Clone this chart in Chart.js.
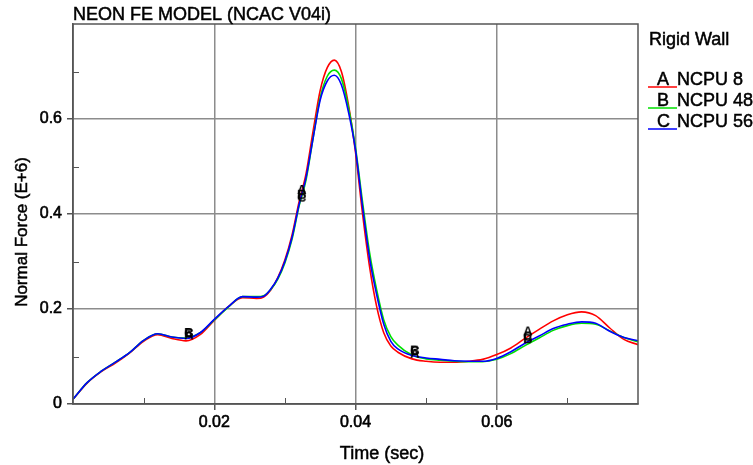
<!DOCTYPE html>
<html>
<head>
<meta charset="utf-8">
<script src="https://cdn.jsdelivr.net/npm/chart.js@4.4.1/dist/chart.umd.min.js"></script>
<style>
  body { margin: 0; background: #fff; }
  #wrap { position: relative; width: 753px; height: 465px; }
</style>
</head>
<body>
<div id="wrap"><canvas id="force-chart"></canvas></div>
<script>
// time (sec)
const times = [0, 0.002, 0.004, 0.006, 0.008, 0.010, 0.012, 0.014, 0.016, 0.018, 0.020, 0.022, 0.024, 0.026,
  0.027, 0.028, 0.029, 0.030, 0.031, 0.032, 0.033, 0.034, 0.035, 0.036, 0.037, 0.038, 0.039, 0.040,
  0.041, 0.042, 0.043, 0.044, 0.045, 0.046,
  0.048, 0.050, 0.052, 0.054, 0.056, 0.058, 0.060, 0.062, 0.064, 0.066, 0.068, 0.070, 0.072, 0.074,
  0.076, 0.078, 0.080];

// normal force (E+6)
const ncpu8 = [0.010, 0.044, 0.068, 0.086, 0.107, 0.132, 0.146, 0.138, 0.133, 0.146, 0.176, 0.205, 0.224, 0.222,
  0.225, 0.240, 0.266, 0.303, 0.355, 0.425, 0.485, 0.575, 0.660, 0.708, 0.724, 0.700, 0.630, 0.530,
  0.400, 0.288, 0.205, 0.150, 0.122, 0.109,
  0.095, 0.090, 0.088, 0.088, 0.090, 0.094, 0.104, 0.118, 0.138, 0.157, 0.175, 0.188, 0.194, 0.186,
  0.160, 0.136, 0.125];

const ncpu48 = [0.010, 0.045, 0.069, 0.088, 0.108, 0.134, 0.148, 0.141, 0.139, 0.150, 0.177, 0.204, 0.226, 0.226,
  0.228, 0.241, 0.263, 0.297, 0.346, 0.416, 0.472, 0.560, 0.645, 0.690, 0.703, 0.685, 0.625, 0.540,
  0.425, 0.318, 0.240, 0.177, 0.142, 0.124,
  0.103, 0.095, 0.092, 0.090, 0.089, 0.089, 0.094, 0.106, 0.123, 0.139, 0.155, 0.165, 0.170, 0.168,
  0.154, 0.140, 0.131];

const ncpu56 = [0.010, 0.045, 0.069, 0.088, 0.108, 0.134, 0.148, 0.141, 0.138, 0.150, 0.178, 0.205, 0.226, 0.225,
  0.227, 0.242, 0.265, 0.300, 0.350, 0.419, 0.477, 0.560, 0.640, 0.680, 0.692, 0.672, 0.615, 0.535,
  0.415, 0.306, 0.230, 0.168, 0.132, 0.116,
  0.102, 0.097, 0.094, 0.091, 0.090, 0.090, 0.096, 0.110, 0.128, 0.143, 0.159, 0.168, 0.173, 0.170,
  0.153, 0.140, 0.133];

// letter symbols on the curves
const markTimes = [0.0164, 0.0324, 0.0484, 0.0644];
const markA = [0.134, 0.440, 0.095, 0.142];
const markB = [0.139, 0.430, 0.102, 0.126];
const markC = [0.138, 0.424, 0.101, 0.131];

const xLabelled = [0.02, 0.04, 0.06];
const yLabelled = [0, 0.2, 0.4, 0.6];

const FONT = "'Liberation Sans', Arial, Helvetica, sans-serif";

function pts(xs, ys) {
  return xs.map((t, i) => ({ x: t, y: ys[i] }));
}

function letterImage(ch) {
  const c = document.createElement('canvas');
  c.width = 14; c.height = 26;
  const g = c.getContext('2d');
  g.fillStyle = '#000';
  g.font = 'bold 13px ' + FONT;
  g.textAlign = 'center';
  g.textBaseline = 'alphabetic';
  g.fillText(ch, 7, 12);
  return c;
}

function isLabelled(v, list, step) {
  return list.some(l => Math.abs(l - v) < step / 10);
}

function markSet(label, ys) {
  return {
    label: label,
    data: pts(markTimes, ys),
    showLine: false,
    pointStyle: letterImage(label),
    pointRadius: 7,
    order: 0,
    isMark: true
  };
}

const series = [
  { label: 'NCPU 8', letter: 'A', data: pts(times, ncpu8), borderColor: '#ff0000', order: 3 },
  { label: 'NCPU 48', letter: 'B', data: pts(times, ncpu48), borderColor: '#00e000', order: 2 },
  { label: 'NCPU 56', letter: 'C', data: pts(times, ncpu56), borderColor: '#0000ff', order: 1 }
].map(s => Object.assign(s, {
  borderWidth: 1.6,
  pointRadius: 0,
  fill: false,
  cubicInterpolationMode: 'monotone'
}));

// fill + thin stroke, the reference type is a little heavier than plain Arial
function heavyText(ctx, str, x, y) {
  ctx.strokeText(str, x, y);
  ctx.fillText(str, x, y);
}

const decor = {
  id: 'decor',
  afterDraw(chart) {
    const { ctx, chartArea: a, scales: { x, y } } = chart;
    ctx.save();

    // frame
    ctx.strokeStyle = '#555';
    ctx.lineWidth = 1.5;
    ctx.strokeRect(a.left, a.top, a.right - a.left, a.bottom - a.top);

    // minor ticks point inward
    ctx.lineWidth = 1;
    ctx.beginPath();
    x.ticks.forEach(t => {
      const n = Math.round(t.value * 100);
      if (n % 2 === 1) {
        const px = Math.round(x.getPixelForValue(t.value)) + 0.5;
        ctx.moveTo(px, a.bottom);
        ctx.lineTo(px, a.bottom - 6);
      }
    });
    y.ticks.forEach(t => {
      const n = Math.round(t.value * 10);
      if (n % 2 === 1) {
        const py = Math.round(y.getPixelForValue(t.value)) + 0.5;
        ctx.moveTo(a.left, py);
        ctx.lineTo(a.left + 6, py);
      }
    });
    ctx.stroke();

    // titles
    ctx.fillStyle = '#000';
    ctx.strokeStyle = '#000';
    ctx.lineWidth = 0.5;
    ctx.textBaseline = 'alphabetic';
    ctx.textAlign = 'left';
    ctx.font = '18px ' + FONT;
    heavyText(ctx, 'NEON FE MODEL (NCAC V04i)', 73, 20);

    ctx.textAlign = 'center';
    heavyText(ctx, 'Time (sec)', 382, 459);

    ctx.save();
    ctx.translate(27, 232);
    ctx.rotate(-Math.PI / 2);
    ctx.font = '17px ' + FONT;
    heavyText(ctx, 'Normal Force (E+6)', 0, 0);
    ctx.restore();

    // legend
    ctx.textAlign = 'left';
    ctx.font = '18px ' + FONT;
    heavyText(ctx, 'Rigid Wall', 649, 45);
    chart.data.datasets.filter(d => !d.isMark).forEach((d, i) => {
      const base = 85 + i * 21;
      ctx.fillStyle = '#000';
      ctx.strokeStyle = '#000';
      ctx.lineWidth = 0.5;
      heavyText(ctx, d.letter, 657, base);
      heavyText(ctx, d.label, 677, base);
      ctx.strokeStyle = d.borderColor;
      ctx.lineWidth = 1.5;
      ctx.beginPath();
      ctx.moveTo(648, base + 2);
      ctx.lineTo(677, base + 2);
      ctx.stroke();
    });

    ctx.restore();
  }
};

const tickFont = { family: FONT, size: 16 };

new Chart(document.getElementById('force-chart'), {
  type: 'line',
  data: {
    datasets: [
      markSet('A', markA),
      markSet('B', markB),
      markSet('C', markC),
      ...series
    ]
  },
  options: {
    responsive: true,
    maintainAspectRatio: false,
    animation: false,
    layout: { padding: { top: 24, right: 115, left: 0, bottom: 0 } },
    plugins: {
      legend: { display: false },
      tooltip: { enabled: false },
      title: { display: false }
    },
    scales: {
      x: {
        type: 'linear',
        min: 0,
        max: 0.08,
        afterFit: s => { s.height = 61; },
        ticks: {
          stepSize: 0.01,
          color: '#000',
          textStrokeColor: '#000',
          textStrokeWidth: 0.6,
          font: tickFont,
          padding: 3,
          maxRotation: 0,
          autoSkip: false,
          callback: v => isLabelled(v, xLabelled, 0.01) ? v.toFixed(2) : ''
        },
        grid: {
          tickLength: 6,
          lineWidth: 1.5,
          color: c => (c.tick && isLabelled(c.tick.value, xLabelled, 0.01)) ? '#8c8c8c' : 'rgba(0,0,0,0)',
          tickColor: c => (c.tick && isLabelled(c.tick.value, xLabelled, 0.01)) ? '#555' : 'rgba(0,0,0,0)'
        },
        border: { color: '#555', width: 1.5 }
      },
      y: {
        min: 0,
        max: 0.8,
        afterFit: s => { s.width = 73; },
        ticks: {
          stepSize: 0.1,
          color: '#000',
          textStrokeColor: '#000',
          textStrokeWidth: 0.6,
          font: tickFont,
          padding: 5,
          autoSkip: false,
          callback: v => isLabelled(v, yLabelled, 0.1) ? (Math.abs(v) < 1e-9 ? '0' : v.toFixed(1)) : ''
        },
        grid: {
          tickLength: 6,
          lineWidth: 1.5,
          color: c => (c.tick && isLabelled(c.tick.value, yLabelled, 0.1) && c.tick.value > 0) ? '#8c8c8c' : 'rgba(0,0,0,0)',
          tickColor: c => (c.tick && isLabelled(c.tick.value, yLabelled, 0.1)) ? '#555' : 'rgba(0,0,0,0)'
        },
        border: { color: '#555', width: 1.5 }
      }
    }
  },
  plugins: [decor]
});
</script>
</body>
</html>
